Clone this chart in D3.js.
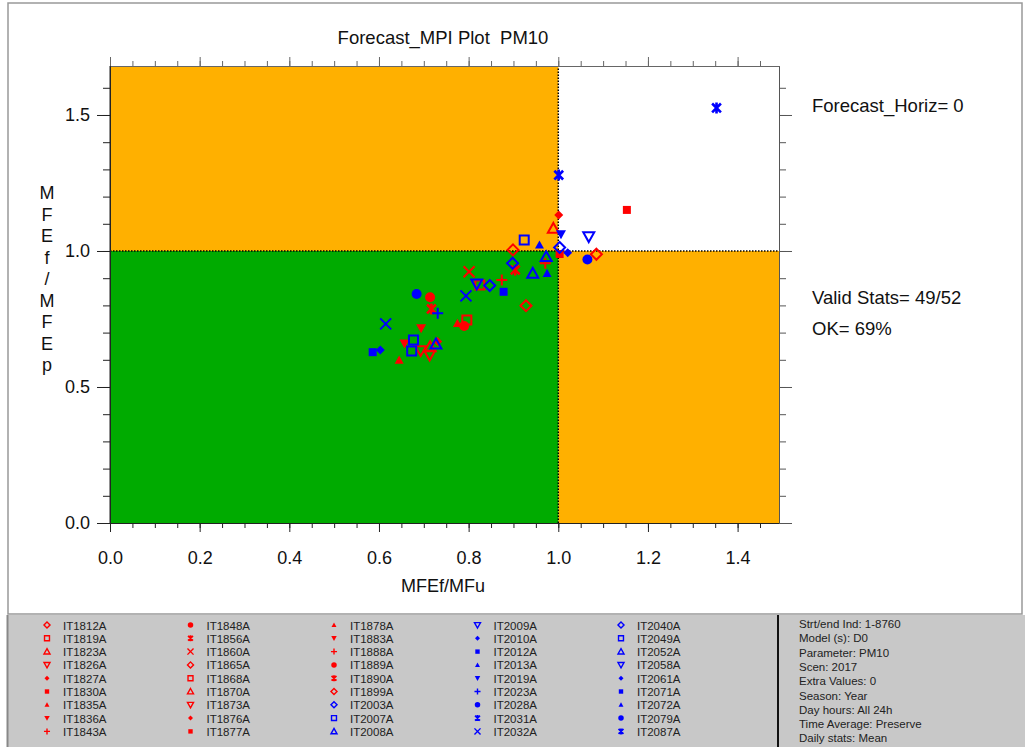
<!DOCTYPE html>
<html>
<head>
<meta charset="utf-8">
<script src="https://cdn.jsdelivr.net/npm/d3@7"></script>
<style>
  body { margin: 0; background: #fff; }
  svg { display: block; font-family: Arial, "Liberation Sans", sans-serif; }
</style>
</head>
<body>
<div id="chart"></div>
<script>
// Legend stations, in the order they are listed in the bottom panel.
var stationNames = [
  'IT1812A', 'IT1819A', 'IT1823A', 'IT1826A', 'IT1827A', 'IT1830A', 'IT1835A', 'IT1836A', 'IT1843A',
  'IT1848A', 'IT1856A', 'IT1860A', 'IT1865A', 'IT1868A', 'IT1870A', 'IT1873A', 'IT1876A', 'IT1877A',
  'IT1878A', 'IT1883A', 'IT1888A', 'IT1889A', 'IT1890A', 'IT1899A', 'IT2003A', 'IT2007A', 'IT2008A',
  'IT2009A', 'IT2010A', 'IT2012A', 'IT2013A', 'IT2019A', 'IT2023A', 'IT2028A', 'IT2031A', 'IT2032A',
  'IT2040A', 'IT2049A', 'IT2052A', 'IT2058A', 'IT2061A', 'IT2071A', 'IT2072A', 'IT2079A', 'IT2087A'
];
var stationSymbols = [
  'od', 'os', 'ot', 'oit', 'fd', 'fs', 'ft', 'fit', 'plus',
  'fc', 'ast', 'x', 'od', 'os', 'ot', 'oit', 'fd', 'fs',
  'ft', 'fit', 'plus', 'fc', 'ast', 'od', 'od', 'os', 'ot',
  'oit', 'fd', 'fs', 'ft', 'fit', 'plus', 'fc', 'ast', 'x',
  'od', 'os', 'ot', 'oit', 'fd', 'fs', 'ft', 'fc', 'ast'
];
var stationGroup = [
  'r', 'r', 'r', 'r', 'r', 'r', 'r', 'r', 'r',
  'r', 'r', 'r', 'r', 'r', 'r', 'r', 'r', 'r',
  'r', 'r', 'r', 'r', 'r', 'r', 'b', 'b', 'b',
  'b', 'b', 'b', 'b', 'b', 'b', 'b', 'b', 'b',
  'b', 'b', 'b', 'b', 'b', 'b', 'b', 'b', 'b'
];

// Plotted stations (49 valid): MFEf/MFu, MFEf/MFEp, symbol and group.
var ratioU = [
  0.899, 0.796, 0.989, 0.693, 1.001, 1.153, 0.645, 0.694, 0.971, 0.714, 0.904, 0.801,
  1.085, 0.825, 0.714, 0.713, 0.731, 1.003, 0.775, 0.657, 0.874, 0.790, 0.717, 0.928,
  1.003, 0.924, 0.973, 1.068, 1.021, 0.878, 0.958, 1.006, 0.731, 1.065, 1.001, 0.794,
  0.898, 0.677, 0.943, 0.818, 0.603, 0.586, 0.975, 0.684, 1.353,
  0.615, 0.847, 0.673, 0.727
];
var ratioP = [
  1.004, 0.746, 1.083, 0.634, 1.132, 1.151, 0.599, 0.716, 0.955, 0.830, 0.930, 0.924,
  0.988, 0.875, 0.648, 0.618, 0.667, 0.989, 0.734, 0.660, 0.893, 0.724, 0.787, 0.799,
  1.013, 1.040, 0.979, 1.053, 0.994, 0.850, 1.022, 1.062, 0.771, 0.969, 1.279, 0.835,
  0.955, 0.673, 0.918, 0.879, 0.636, 0.628, 0.918, 0.842, 1.526,
  0.732, 0.873, 0.632, 0.658
];
var pointSymbols = stationSymbols.concat(['x', 'od', 'os', 'ot']);
var pointGroup = stationGroup.concat(['b', 'b', 'b', 'b']);

var infoLines = [
  'Strt/end Ind: 1-8760', 'Model (s): D0', 'Parameter: PM10', 'Scen: 2017', 'Extra Values: 0',
  'Season: Year', 'Day hours: All 24h', 'Time Average: Preserve', 'Daily stats: Mean'
];
var xMajorTicks = [0, 0.2, 0.4, 0.6, 0.8, 1.0, 1.2, 1.4];
var yMajorTicks = [0, 0.5, 1.0, 1.5];

var W = 1025, H = 747;
var colors = { r: '#ff0000', b: '#0000ff' };
var markerSize = { od: 5.5, os: 4.5, ot: 5.5, oit: 5.5, fd: 4.5, fs: 4, ft: 4.5, fit: 5, plus: 5.5, fc: 5, ast: 5.5, x: 5.5 };

var svg = d3.select('#chart').append('svg').attr('width', W).attr('height', H);

// Page frame and bottom panel
svg.append('rect').attr('x', 8).attr('y', 3).attr('width', 1014).attr('height', 611)
   .attr('fill', '#fff').attr('stroke', '#999').attr('stroke-width', 1.5);
svg.append('rect').attr('x', 7).attr('y', 615).attr('width', W - 7).attr('height', H - 615)
   .attr('fill', '#c8c8c8');
svg.append('line').attr('x1', 7.5).attr('x2', 7.5).attr('y1', 615).attr('y2', H)
   .attr('stroke', '#888').attr('stroke-width', 2);
svg.append('line').attr('x1', 778).attr('x2', 778).attr('y1', 615).attr('y2', H)
   .attr('stroke', '#111').attr('stroke-width', 2);

// Scales: the program pads the data maximum by 10%
var xMax = d3.max(ratioU) * 1.103, yMax = d3.max(ratioP) * 1.101;
var x = d3.scaleLinear().domain([0, xMax]).range([110, 779]);
var y = d3.scaleLinear().domain([0, yMax]).range([523, 66]);

// Quadrants
var plot = svg.append('g');
plot.append('rect').attr('x', x(0)).attr('y', y(yMax)).attr('width', x(xMax) - x(0)).attr('height', y(0) - y(yMax))
    .attr('fill', '#fff');
plot.append('rect').attr('x', x(0)).attr('y', y(yMax)).attr('width', x(1) - x(0)).attr('height', y(1) - y(yMax))
    .attr('fill', '#ffb000');
plot.append('rect').attr('x', x(1)).attr('y', y(1)).attr('width', x(xMax) - x(1)).attr('height', y(0) - y(1))
    .attr('fill', '#ffb000');
plot.append('rect').attr('x', x(0)).attr('y', y(1)).attr('width', x(1) - x(0)).attr('height', y(0) - y(1))
    .attr('fill', '#00ab00');
plot.append('line').attr('x1', x(0)).attr('x2', x(xMax)).attr('y1', y(1)).attr('y2', y(1))
    .attr('stroke', '#000').attr('stroke-width', 1.5).attr('stroke-dasharray', '1.5,1.5');
plot.append('line').attr('x1', x(1)).attr('x2', x(1)).attr('y1', y(0)).attr('y2', y(yMax))
    .attr('stroke', '#000').attr('stroke-width', 1.5).attr('stroke-dasharray', '1.5,1.5');

// Axes: minor ticks first, then labelled major ticks
function styleAxis(g, col) {
  g.select('.domain').attr('stroke', col);
  g.selectAll('.tick line').attr('stroke', col);
  g.selectAll('.tick text').attr('fill', '#111').style('font-size', '18px').style('font-family', 'Arial, "Liberation Sans", sans-serif');
}
var xMinor = d3.range(0, 30).map(function(i) { return i * 0.05; });
var yMinor = d3.range(0, 17).map(function(i) { return i * 0.1; });

var axes = [
  { gen: d3.axisBottom, scale: x, pos: 'translate(0,' + y(0) + ')', minor: xMinor, major: xMajorTicks, lab: true, col: '#222', pad: 19 },
  { gen: d3.axisTop, scale: x, pos: 'translate(0,' + y(yMax) + ')', minor: xMinor, major: xMajorTicks, lab: false, col: '#666' },
  { gen: d3.axisLeft, scale: y, pos: 'translate(' + x(0) + ',0)', minor: yMinor, major: yMajorTicks, lab: true, col: '#222', pad: 7 },
  { gen: d3.axisRight, scale: y, pos: 'translate(' + x(xMax) + ',0)', minor: yMinor, major: yMajorTicks, lab: false, col: '#555' }
];
axes.forEach(function(a) {
  var vertical = a.gen === d3.axisLeft || a.gen === d3.axisRight;
  var gMin = svg.append('g').attr('transform', a.pos)
    .call(a.gen(a.scale).tickValues(a.minor).tickSize(vertical ? 7 : 5).tickSizeOuter(0).tickFormat(''));
  styleAxis(gMin, a.col);
  var gMaj = svg.append('g').attr('transform', a.pos)
    .call(a.gen(a.scale).tickValues(a.major).tickSize(vertical ? 13 : 9).tickSizeOuter(0)
      .tickPadding(a.pad || 3).tickFormat(a.lab ? d3.format('.1f') : ''));
  styleAxis(gMaj, a.col);
});
// left axis extends to the top tick row
svg.append('line').attr('x1', x(0)).attr('x2', x(0)).attr('y1', y(0)).attr('y2', y(yMax))
   .attr('stroke', '#222');

// Marker shapes
function markerPath(type, r) {
  var t = r * 0.8;
  switch (type) {
    case 'od': case 'fd': return 'M0,' + (-r) + 'L' + r + ',0L0,' + r + 'L' + (-r) + ',0Z';
    case 'os': case 'fs': return 'M' + (-r) + ',' + (-r) + 'H' + r + 'V' + r + 'H' + (-r) + 'Z';
    case 'ot': case 'ft': return 'M0,' + (-r) + 'L' + r + ',' + t + 'L' + (-r) + ',' + t + 'Z';
    case 'oit': case 'fit': return 'M0,' + r + 'L' + r + ',' + (-t) + 'L' + (-r) + ',' + (-t) + 'Z';
    case 'fc': return 'M' + r + ',0A' + r + ',' + r + ' 0 1,1 ' + (-r) + ',0A' + r + ',' + r + ' 0 1,1 ' + r + ',0Z';
    case 'plus': return 'M' + (-r) + ',0H' + r + 'M0,' + (-r) + 'V' + r;
    case 'x': return 'M' + (-r) + ',' + (-r) + 'L' + r + ',' + r + 'M' + (-r) + ',' + r + 'L' + r + ',' + (-r);
    case 'ast': return 'M0,' + (-r) + 'V' + r + 'M' + (-t) + ',' + (-t) + 'L' + t + ',' + t + 'M' + (-t) + ',' + t + 'L' + t + ',' + (-t);
  }
}
function drawMarker(sel, type, col, scale) {
  var filled = type.charAt(0) === 'f';
  sel.append('path')
     .attr('d', markerPath(type, markerSize[type] * scale))
     .attr('fill', filled ? col : 'none')
     .attr('stroke', filled ? 'none' : col)
     .attr('stroke-width', (type === 'ast' ? 2.6 : 2) * Math.max(scale, 0.7));
}

// Points
var pts = svg.append('g').selectAll('g').data(d3.range(ratioU.length)).enter().append('g')
  .attr('transform', function(i) { return 'translate(' + x(ratioU[i]) + ',' + y(ratioP[i]) + ')'; });
pts.each(function(i) { drawMarker(d3.select(this), pointSymbols[i], colors[pointGroup[i]], 1); });

// Titles and labels
svg.append('text').attr('x', 443).attr('y', 44).attr('text-anchor', 'middle')
   .style('font-size', '18.5px').style('white-space', 'pre').attr('fill', '#111')
   .text('Forecast_MPI Plot  PM10');
svg.append('text').attr('x', 443).attr('y', 592).attr('text-anchor', 'middle')
   .style('font-size', '18px').attr('fill', '#111').text('MFEf/MFu');
var yLab = 'MFEf/MFEp'.split('');
svg.append('g').selectAll('text').data(yLab).enter().append('text')
   .attr('x', 47).attr('y', function(d, i) { return 199 + i * 21.5; }).attr('text-anchor', 'middle')
   .style('font-size', '18px').attr('fill', '#111').text(function(d) { return d; });

var side = svg.append('g').style('font-size', '18.5px').attr('fill', '#111');
side.append('text').attr('x', 812).attr('y', 112).text('Forecast_Horiz= 0');
side.append('text').attr('x', 812).attr('y', 304).text('Valid Stats= ' + ratioU.length + '/52');
side.append('text').attr('x', 812).attr('y', 335).text('OK= 69%');

// Legend
var leg = svg.append('g').selectAll('g').data(stationNames).enter().append('g')
  .attr('transform', function(d, i) {
    return 'translate(' + (47 + Math.floor(i / 9) * 143.5) + ',' + (625 + (i % 9) * 13.3) + ')';
  });
leg.each(function(d, i) { drawMarker(d3.select(this), stationSymbols[i], colors[stationGroup[i]], 0.55); });
leg.append('text').attr('x', 16).attr('y', 4.5).style('font-size', '11.5px').attr('fill', '#222')
   .text(function(d) { return d; });

svg.append('g').selectAll('text').data(infoLines).enter().append('text')
   .attr('x', 799).attr('y', function(d, i) { return 628 + i * 14.3; })
   .style('font-size', '11.5px').attr('fill', '#222').text(function(d) { return d; });
</script>
</body>
</html>
